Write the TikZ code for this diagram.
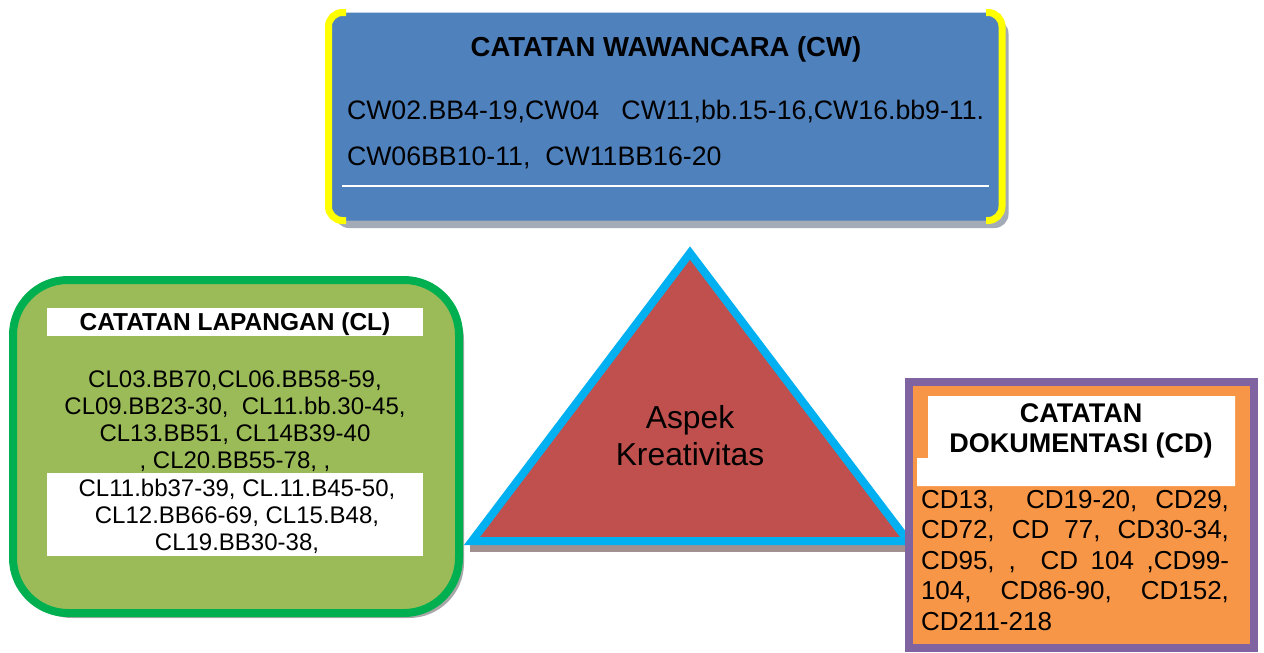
\documentclass[tikz,border=0pt]{standalone}
\usepackage{fontspec}
\setmainfont{Liberation Sans}
\definecolor{cwblue}{HTML}{4F81BD}
\definecolor{cwshadow}{HTML}{A3ABB7}
\definecolor{cwyellow}{HTML}{FFFF00}
\definecolor{clgreen}{HTML}{9BBB59}
\definecolor{clborder}{HTML}{00B050}
\definecolor{boxshadow}{HTML}{A8A8A8}
\definecolor{trired}{HTML}{C0504D}
\definecolor{tricyan}{HTML}{00B0F0}
\definecolor{trishadow}{HTML}{A29090}
\definecolor{cdorange}{HTML}{F79646}
\definecolor{cdpurple}{HTML}{8064A2}
\newcommand{\sz}[2]{\fontsize{#1pt}{#2pt}\selectfont}
\begin{document}
\begin{tikzpicture}[x=1pt,y=-1pt,
  txt/.style={inner sep=0pt, outer sep=0pt, text=black},
  bracket/.style={draw=cwyellow, line width=7pt, rounded corners=14pt}]
\useasboundingbox (0,0) rectangle (1264,653);
\fill[white] (0,0) rectangle (1264,653);

% ---- interview notes box (top) ----
\fill[cwshadow, rounded corners=14pt] (335,19.5) rectangle (1008.5,228);
\fill[cwblue, rounded corners=14pt] (328.5,12.5) rectangle (1002,220.5);
\path[bracket] (346,12.5) -- (328.5,12.5) -- (328.5,220.5) -- (346,220.5);
\path[bracket] (986,12.5) -- (1002,12.5) -- (1002,220.5) -- (986,220.5);
\draw[white, line width=2.5pt] (342,186) -- (989,186);
\node[txt, anchor=base, font={\sz{27.5}{30}\bfseries}] (cwtitle) at (666,56) {CATATAN WAWANCARA (CW)};
\node[txt, anchor=base west] (cwbody) at (347,119)
  {\parbox[t]{700pt}{\sz{26.7}{46}CW02.BB4-19,CW04\ \ \ CW11,bb.15-16,CW16.bb9-11.\\
   CW06BB10-11,\ \ CW11BB16-20}};

% ---- field notes box (left) ----
\fill[boxshadow, rounded corners=55pt] (17,285) rectangle (464,618);
\filldraw[fill=clgreen, draw=clborder, line width=8pt, rounded corners=55pt] (13,280) rectangle (459,613);
\fill[white] (47,308) rectangle (423,336);
\fill[white] (47,473) rectangle (423,556);
\node[txt, anchor=base, font={\sz{24.5}{27}\bfseries}] (cltitle) at (235,330) {CATATAN LAPANGAN (CL)};
\node[txt, anchor=base] (clbodya) at (235,387)
  {\parbox[t]{376pt}{\centering\sz{24}{27.2}CL03.BB70,CL06.BB58-59,\\
   CL09.BB23-30,\ \ CL11.bb.30-45,\\
   CL13.BB51, CL14B39-40\\
   , CL20.BB55-78, ,}};
\node[txt, anchor=base] (clbodyb) at (237,496)
  {\parbox[t]{376pt}{\centering\sz{24}{27}CL11.bb37-39, CL.11.B45-50,\\
   CL12.BB66-69, CL15.B48,\\
   CL19.BB30-38,}};

% ---- central triangle ----
\fill[trishadow] (470,545) rectangle (914,552);
\filldraw[fill=trired, draw=tricyan, line width=8pt, miter limit=10] (690,253) -- (908,541) -- (472,541) -- cycle;
\node[txt, anchor=base] (aspek) at (690,428)
  {\parbox[t]{300pt}{\centering\sz{31.8}{37}Aspek\\Kreativitas}};

% ---- documentation notes box (right) ----
\filldraw[fill=cdorange, draw=cdpurple, line width=8pt] (909,382) rectangle (1254,648);
\fill[white] (928,396) -- (1235,396) -- (1235,486) -- (917,486) -- (917,458) -- (928,458) -- cycle;
\node[txt, anchor=base] (cdtitle) at (1081,422)
  {\parbox[t]{300pt}{\centering\sz{27}{30}\bfseries CATATAN\\DOKUMENTASI (CD)}};
\node[txt, anchor=base west] (cdbody) at (921,508)
  {\parbox[t]{308pt}{\sz{26}{30.5}%
   \makebox[308pt][s]{CD13,\ \ CD19-20, CD29,}\\
   \makebox[308pt][s]{CD72, CD 77, CD30-34,}\\
   \makebox[308pt][s]{CD95, ,\ \ CD 104 ,CD99-}\\
   \makebox[308pt][s]{104, CD86-90, CD152,}\\
   CD211-218}};
\end{tikzpicture}
\end{document}
